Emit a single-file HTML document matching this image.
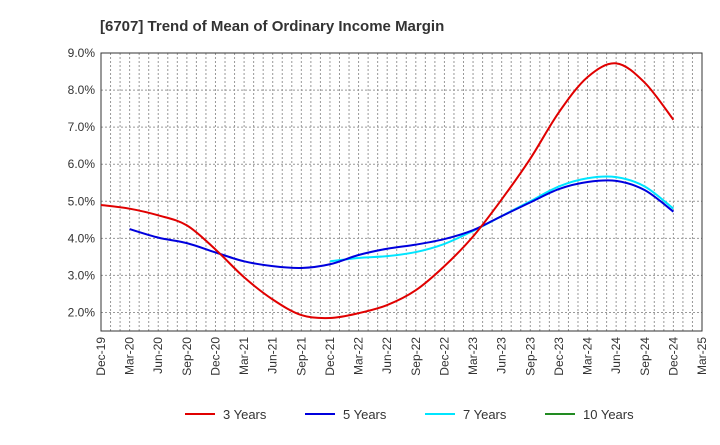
<!DOCTYPE html>
<html><head><meta charset="utf-8"><style>
body{margin:0;background:#fff;font-family:"Liberation Sans",sans-serif}
</style></head><body>
<svg id="c" width="720" height="440" xmlns="http://www.w3.org/2000/svg" font-family="Liberation Sans, sans-serif">
<text x="100" y="31" font-size="15" font-weight="bold" fill="#333">[6707]  Trend of Mean of Ordinary Income Margin</text>
<g id="grid"></g><g id="axes"></g><g id="series"></g><g id="legend"></g>
</svg>
<script>
const xLabels=["Dec-19","Mar-20","Jun-20","Sep-20","Dec-20","Mar-21","Jun-21","Sep-21","Dec-21","Mar-22","Jun-22","Sep-22","Dec-22","Mar-23","Jun-23","Sep-23","Dec-23","Mar-24","Jun-24","Sep-24","Dec-24","Mar-25"];
const yTicks=[2,3,4,5,6,7,8,9];
const s3=[4.9,4.8,4.62,4.35,3.7,2.95,2.35,1.93,1.85,1.98,2.2,2.6,3.25,4.05,5.05,6.15,7.4,8.35,8.72,8.2,7.2];
const s5=[null,4.25,4.02,3.87,3.62,3.38,3.25,3.2,3.3,3.55,3.72,3.83,3.98,4.22,4.6,4.97,5.33,5.52,5.55,5.3,4.72];
const s7=[null,null,null,null,null,null,null,null,3.38,3.47,3.52,3.63,3.85,4.2,4.6,5.0,5.4,5.62,5.65,5.4,4.8];
const s10=[];
const NS="http://www.w3.org/2000/svg";
const L=101,R=702,T=53,B=331,yMin=1.5,yMax=9;
const X=i=>L+(R-L)*i/(xLabels.length-1);
const Y=v=>B-(B-T)*(v-yMin)/(yMax-yMin);
function mk(p,t,a){const e=document.createElementNS(NS,t);for(const k in a)e.setAttribute(k,a[k]);p.appendChild(e);return e;}
const g=document.getElementById('grid'),ax=document.getElementById('axes'),se=document.getElementById('series'),lg=document.getElementById('legend');
const months=(xLabels.length-1)*3;
for(let m=1;m<months;m++){const x=L+(R-L)*m/months;
const l=mk(g,'line',{x1:x,x2:x,y1:T,y2:B,stroke:'#999','stroke-dasharray':'2,2','stroke-width':1});

}
yTicks.forEach(v=>{const y=Y(v);
const l=mk(g,'line',{x1:L,x2:R,y1:y,y2:y,stroke:'#999','stroke-dasharray':'2,2','stroke-width':1});


const t=mk(ax,'text',{x:L-6,y:y+4,'text-anchor':'end','font-size':12,fill:'#333'});t.textContent=v.toFixed(1)+'%';

});
const fr=mk(ax,'rect',{x:L,y:T,width:R-L,height:B-T,fill:'none',stroke:'#333','stroke-width':1});


xLabels.forEach((s,i)=>{const x=X(i);
const t=mk(ax,'text',{x:x+4,y:B+6,'text-anchor':'end','font-size':12,fill:'#333',transform:`rotate(-90 ${x+4} ${B+6})`});t.textContent=s;

});
function path(arr){const p=[];arr.forEach((v,i)=>{if(v!=null)p.push([X(i),Y(v)]);});
if(p.length<2)return '';let d=`M${p[0][0]},${p[0][1]}`;
for(let i=0;i<p.length-1;i++){const p0=p[i-1]||p[i],p1=p[i],p2=p[i+1],p3=p[i+2]||p2;
d+=` C${p1[0]+(p2[0]-p0[0])/6},${p1[1]+(p2[1]-p0[1])/6} ${p2[0]-(p3[0]-p1[0])/6},${p2[1]-(p3[1]-p1[1])/6} ${p2[0]},${p2[1]}`;}return d;}
const series=[[s3,'#e00000','3 Years'],[s5,'#0000dd','5 Years'],[s7,'#00e5ff','7 Years'],[s10,'#228b22','10 Years']];
[2,1,0,3].forEach(k=>{const [a,c,n]=series[k];const d=path(a);if(!d)return;
const p=mk(se,'path',{d,fill:'none',stroke:c,'stroke-width':2});

});
series.forEach(([a,c,n],i)=>{const x0=185+i*120;
const gg=mk(lg,'g',{});


mk(gg,'line',{x1:x0,x2:x0+30,y1:414,y2:414,stroke:c,'stroke-width':2});
const t=mk(gg,'text',{x:x0+38,y:419,'font-size':13,fill:'#333'});t.textContent=n;});
</script>
</body></html>
